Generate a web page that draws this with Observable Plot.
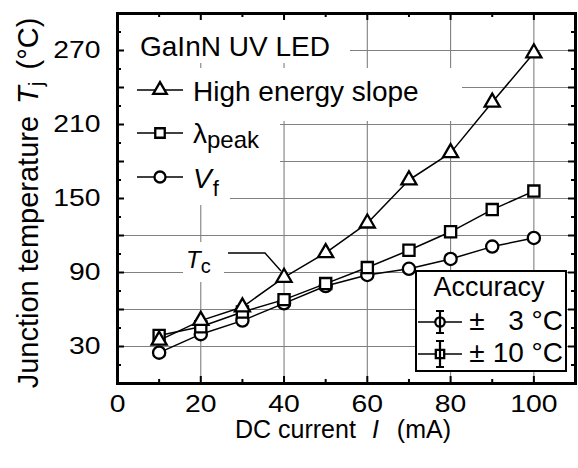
<!DOCTYPE html>
<html><head><meta charset="utf-8">
<script src="https://cdn.jsdelivr.net/npm/d3@7"></script>
<script src="https://cdn.jsdelivr.net/npm/@observablehq/plot@0.6"></script>
<style>
html,body{margin:0;padding:0;background:#fff;}
#chart svg{display:block;}
</style></head><body><div id="chart"></div>
<script>
// ---- data ----
const currents = [10, 20, 30, 40, 50, 60, 70, 80, 90, 100];               // mA
const tHighEnergySlope = [35, 51, 62, 86, 106, 130, 165, 187, 228, 268];   // °C
const tLambdaPeak      = [39, 46, 58, 68, 81, 94, 108, 123, 141, 156];     // °C
const tForwardVoltage  = [25, 40, 51, 65, 79, 88, 93, 101, 111, 118];      // °C
const xTickLabels = [0, 20, 40, 60, 80, 100];
const yTickLabels = [30, 90, 150, 210, 270];
const xMajorTicks = [20, 40, 60, 80, 100];
const xMinorTicks = [10, 30, 50, 70, 90];
const yMajorTicks = [30, 60, 90, 120, 150, 180, 210, 240, 270];
const yMinorTicks = [15, 45, 75, 105, 135, 165, 195, 225, 255, 285];

const seriesKeys = ["High energy slope", "λpeak", "Vf"];
const seriesValues = [tHighEnergySlope, tLambdaPeak, tForwardVoltage];
const rows = [];
seriesKeys.forEach((k, j) => currents.forEach((c, i) => rows.push({I: c, T: seriesValues[j][i], s: k})));
const bySeries = k => rows.filter(r => r.s === k);

const W = 578, H = 468, ML = 117, MR = 3, MT = 13, MB = 85;
const FW = W - ML - MR, FH = H - MT - MB;
const font = "'Liberation Sans', Arial, Helvetica, sans-serif";
const gridColor = "#808080";
const markerStroke = 2.3;

const plot = Plot.plot({
  width: W, height: H,
  marginLeft: ML, marginRight: MR, marginTop: MT, marginBottom: MB,
  style: {fontFamily: font, background: "white", color: "black", overflow: "visible"},
  x: {domain: [0, 110], axis: null},
  y: {domain: [0, 300], axis: null},
  marks: [
    Plot.ruleX(xMajorTicks, {x: d => d, stroke: gridColor, strokeWidth: 1.1}),               // 0
    Plot.ruleY(yMajorTicks, {y: d => d, stroke: gridColor, strokeWidth: 1.1}),               // 1
    Plot.line(rows, {x: "I", y: "T", z: "s", stroke: "black", strokeWidth: 1.5}),            // 2
    Plot.dot(bySeries("Vf"), {x: "I", y: "T", symbol: "circle", r: 6.1, fill: "white", stroke: "black", strokeWidth: markerStroke}),
    Plot.dot(bySeries("λpeak"), {x: "I", y: "T", symbol: "square", r: 6.3, fill: "white", stroke: "black", strokeWidth: markerStroke}),
    Plot.dot(bySeries("High energy slope"), {x: "I", y: "T", symbol: "triangle", r: 5.6, fill: "white", stroke: "black", strokeWidth: markerStroke}),
    // inward ticks on all four sides
    Plot.ruleX(xMajorTicks, {x: d => d, insetTop: FH - 7, stroke: "black", strokeWidth: 2}),
    Plot.ruleX(xMinorTicks, {x: d => d, insetTop: FH - 4, stroke: "black", strokeWidth: 2}),
    Plot.ruleX(xMajorTicks, {x: d => d, insetBottom: FH - 7, stroke: "black", strokeWidth: 2}),
    Plot.ruleX(xMinorTicks, {x: d => d, insetBottom: FH - 4, stroke: "black", strokeWidth: 2}),
    Plot.ruleY(yMajorTicks, {y: d => d, insetRight: FW - 7, stroke: "black", strokeWidth: 2}),
    Plot.ruleY(yMinorTicks, {y: d => d, insetRight: FW - 4, stroke: "black", strokeWidth: 2}),
    Plot.ruleY(yMajorTicks, {y: d => d, insetLeft: FW - 7, stroke: "black", strokeWidth: 2}),
    Plot.ruleY(yMinorTicks, {y: d => d, insetLeft: FW - 4, stroke: "black", strokeWidth: 2}),
    Plot.frame({stroke: "black", strokeWidth: 3}),
    Plot.text(xTickLabels, {x: d => d, text: d => String(d), frameAnchor: "bottom", dy: 21, lineAnchor: "middle", fontSize: 24, fill: "black"}),
    Plot.text(yTickLabels, {y: d => d, text: d => String(d), frameAnchor: "left", dx: -17, textAnchor: "end", lineAnchor: "middle", fontSize: 24, fill: "black"})
  ]
});
document.getElementById("chart").appendChild(plot);

const svg = d3.select(plot);
const markGroups = Array.from(plot.children).filter(n => n.tagName.toLowerCase() === "g");
// slightly wider tick-label digits, as in the reference
markGroups.slice(-2).forEach(g => g.querySelectorAll("text").forEach(t => {
  const tr = t.getAttribute("transform");
  if (tr) t.setAttribute("transform", tr + " scale(1.18,1)");
}));

// white backgrounds behind the legend texts (hide the grid there)
const boxes = d3.select(plot.insertBefore(document.createElementNS("http://www.w3.org/2000/svg", "g"), markGroups[2])).attr("fill", "white");
[[118, 20, 232, 43], [118, 68, 344, 53], [118, 121, 162, 45], [118, 166, 112, 39], [183, 242, 41, 40]]
  .forEach(([x, y, w, h]) => boxes.append("rect").attr("x", x).attr("y", y).attr("width", w).attr("height", h));

const ann = svg.append("g").attr("font-family", font).attr("fill", "black").attr("text-anchor", "start");

// axis titles
const xt = ann.append("text").attr("x", 343).attr("y", 438).attr("text-anchor", "middle").attr("font-size", 25);
xt.append("tspan").text("DC current");
xt.append("tspan").attr("dx", 16).attr("font-style", "italic").text("I");
xt.append("tspan").attr("dx", 18).text("(mA)");

const yt = ann.append("text").attr("transform", "translate(38,203) rotate(-90)").attr("text-anchor", "middle").attr("font-size", 29);
yt.append("tspan").text("Junction temperature");
yt.append("tspan").attr("dx", 12).attr("font-style", "italic").text("T");
yt.append("tspan").attr("font-size", 21).attr("dy", 5).text("j");
yt.append("tspan").attr("dy", -5).attr("dx", 12).text("(°C)");

// top-left legend
ann.append("text").attr("x", 140).attr("y", 56).attr("font-size", 28).text("GaInN UV LED");
function legendSymbol(g, cx, cy, type, size) {
  g.append("line").attr("x1", 137).attr("x2", 183).attr("y1", cy).attr("y2", cy).attr("stroke", "black").attr("stroke-width", 1.6);
  g.append("path").attr("d", d3.symbol(type, size)()).attr("transform", `translate(${cx},${cy})`)
    .attr("fill", "white").attr("stroke", "black").attr("stroke-width", markerStroke);
}
legendSymbol(ann, 160, 90, d3.symbolTriangle, 80);
ann.append("text").attr("x", 193).attr("y", 101).attr("font-size", 28).text("High energy slope");
legendSymbol(ann, 160, 133, d3.symbolSquare, 90);
const lp = ann.append("text").attr("x", 193).attr("y", 143).attr("font-size", 28);
lp.append("tspan").text("λ");
lp.append("tspan").attr("font-size", 24).attr("dy", 5).text("peak");
legendSymbol(ann, 160, 177, d3.symbolCircle, 95);
const vf = ann.append("text").attr("x", 193).attr("y", 188).attr("font-size", 28);
vf.append("tspan").attr("font-style", "italic").text("V");
vf.append("tspan").attr("font-size", 22).attr("dy", 8).attr("dx", 1).text("f");

// Tc annotation
const tc = ann.append("text").attr("x", 186).attr("y", 268).attr("font-size", 24);
tc.append("tspan").attr("font-style", "italic").text("T");
tc.append("tspan").attr("font-size", 20).attr("dy", 5).text("c");
ann.append("path").attr("d", "M228,253H265L281,271").attr("fill", "none").attr("stroke", "black").attr("stroke-width", 1.4);

// Accuracy legend box
ann.append("rect").attr("x", 416).attr("y", 271).attr("width", 150).attr("height", 100)
  .attr("fill", "white").attr("stroke", "black").attr("stroke-width", 2);
ann.append("text").attr("x", 489).attr("y", 296).attr("text-anchor", "middle").attr("font-size", 27).text("Accuracy");
function errorRow(cy, half, type, size) {
  ann.append("line").attr("x1", 418).attr("x2", 462).attr("y1", cy).attr("y2", cy).attr("stroke", "black").attr("stroke-width", 1.6);
  ann.append("path").attr("d", d3.symbol(type, size)()).attr("transform", `translate(440,${cy})`)
    .attr("fill", "white").attr("stroke", "black").attr("stroke-width", markerStroke);
  ann.append("path").attr("d", `M440,${cy - half}V${cy + half}M436,${cy - half}H444M436,${cy + half}H444`)
    .attr("fill", "none").attr("stroke", "black").attr("stroke-width", 2.2);
}
errorRow(322, 11, d3.symbolCircle, 70);
ann.append("text").attr("x", 477).attr("y", 330).attr("text-anchor", "middle").attr("font-size", 28).text("±");
ann.append("text").attr("x", 563).attr("y", 330).attr("text-anchor", "end").attr("font-size", 28).text("3 °C");
errorRow(354, 13, d3.symbolSquare, 70);
ann.append("text").attr("x", 477).attr("y", 362).attr("text-anchor", "middle").attr("font-size", 28).text("±");
ann.append("text").attr("x", 563).attr("y", 362).attr("text-anchor", "end").attr("font-size", 28).text("10 °C");
</script></body></html>
